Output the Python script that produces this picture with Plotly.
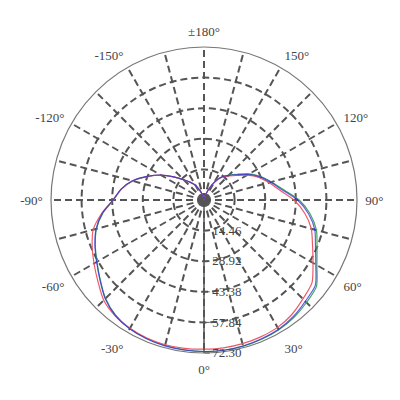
import plotly.graph_objects as go

# angles in degrees, 0 at the bottom, positive towards the right
angles = [-180, -172.5, -165, -157.5, -150, -142.5, -135, -127.5, -120, -112.5,
          -105, -97.5, -90, -82.5, -75, -67.5, -60, -52.5, -45, -37.5, -30,
          -22.5, -15, -7.5, 0, 7.5, 15, 22.5, 30, 37.5, 45, 52.5, 60, 67.5, 75,
          82.5, 90, 97.5, 105, 112.5, 120, 127.5, 135, 142.5, 150, 157.5, 165,
          172.5, 180]

red = [0, 0.5, 2, 4.5, 8, 10.5, 13.5, 18, 23.5, 29,
       35, 39.5, 43, 48.8, 54.2, 57.2, 60.0, 63.2, 67.0, 69.0, 70.0,
       70.6, 70.8, 70.7, 70.5, 70.5, 70.3, 70.0, 69.5, 68.2, 66.1, 64.3, 59.5, 55.5, 52.5,
       48.0, 42.5, 36.0, 31.8, 28.0, 23.5, 19.0, 16.0, 13.5, 9.5, 5, 2,
       0.5, 0]
blue = [0, 0.5, 2, 4.5, 8, 10.5, 13.5, 18, 23.6, 29.1,
        35, 39.5, 43, 48.5, 52.8, 55.8, 58.6, 62.0, 66.0, 68.8, 70.3,
        71.0, 71.4, 71.5, 71.6, 71.6, 71.4, 71.0, 70.5, 69.4, 67.7, 66.3, 61.0, 57.0, 54.2,
        49.8, 44.2, 37.2, 32.6, 28.6, 24.2, 19.6, 16.4, 13.7, 9.6, 5, 2,
        0.5, 0]
green = [0, 0.5, 2, 4.5, 8, 10.4, 13.4, 17.8, 23.4, 28.9,
         34.8, 39.3, 42.8, 48.3, 52.6, 55.6, 58.4, 61.8, 65.8, 68.6, 70.1,
         70.8, 71.2, 71.4, 71.6, 71.6, 71.5, 71.2, 70.8, 69.9, 68.5, 67.0, 61.6, 57.8, 55.0,
         50.6, 45.0, 37.8, 33.0, 29.0, 24.6, 20.0, 16.7, 13.8, 9.6, 5, 2,
         0.5, 0]

r_ticks = [14.46, 28.92, 43.38, 57.84, 72.30]
r_labels = ['14.46', '28.92', '43.38', '57.84', '72.30']

theta_ticks = list(range(0, 360, 15))
theta_labels = ['0°', '', '30°', '', '60°', '', '90°', '', '120°', '', '150°', '',
                '±180°', '', '-150°', '', '-120°', '', '-90°', '', '-60°', '', '-30°', '']

serif = 'Liberation Serif'

fig = go.Figure()

series = [
    ('green', green, 'rgb(70,165,100)', 1.0),
    ('red', red, 'rgb(238,90,105)', 1.0),
    ('blue', blue, 'rgb(45,45,215)', 0.75),
]
for name, vals, color, op in series:
    fig.add_trace(go.Scatterpolar(
        r=vals,
        theta=[a % 360 for a in angles],
        mode='lines',
        name=name,
        line=dict(color=color, width=1.2, shape='spline', smoothing=0.7),
        opacity=op,
        showlegend=False,
        hoverinfo='skip',
    ))

# the page body adds 8px, so the margins are shifted back by that much
fig.update_layout(
    width=400, height=400,
    margin=dict(l=43, r=51, t=39, b=55, autoexpand=False),
    paper_bgcolor='white',
    font=dict(family=serif, size=13, color='#444'),
    polar=dict(
        bgcolor='white',
        angularaxis=dict(
            rotation=270,
            direction='counterclockwise',
            tickmode='array',
            tickvals=theta_ticks,
            ticktext=theta_labels,
            ticks='outside',
            ticklen=5,
            tickcolor='rgba(0,0,0,0)',
            showline=True,
            linecolor='#777',
            linewidth=1.2,
            gridcolor='#555',
            gridwidth=1.5,
            griddash='7px,4px',
            tickfont=dict(family=serif, size=13, color='#444'),
        ),
        radialaxis=dict(
            range=[0, 72.30],
            angle=-90,
            tickangle=-90,
            side='counterclockwise',
            tickmode='array',
            tickvals=r_ticks,
            ticktext=r_labels,
            ticks='outside',
            ticklen=5,
            tickcolor='#555',
            showline=True,
            linecolor='#555',
            linewidth=1.5,
            gridcolor='#555',
            gridwidth=1.5,
            griddash='7px,4px',
            tickfont=dict(family=serif, size=13, color='#444'),
        ),
    ),
)

fig.write_html('out.html')
